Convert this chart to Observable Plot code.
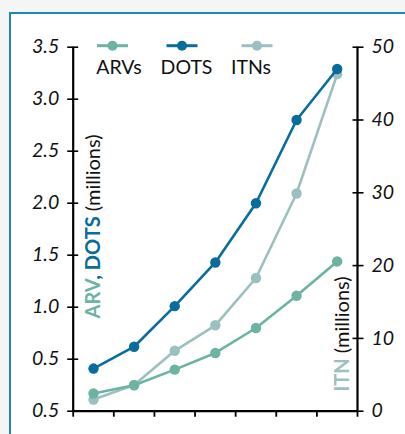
<!DOCTYPE html>
<html><head><meta charset="utf-8">
<script src="https://cdn.jsdelivr.net/npm/d3@7"></script>
<script src="https://cdn.jsdelivr.net/npm/@observablehq/plot@0.6"></script>
<style>
html,body{margin:0;padding:0;background:#f4f6f6;overflow:hidden;width:405px;height:434px;}
#box{position:absolute;left:9px;top:12px;width:420px;height:440px;border-left:2px solid #2187bb;border-top:2px solid #2187bb;background:#fff;}
#chart{position:absolute;left:0;top:0;}
</style></head><body><div id="box"></div><div id="chart"></div>
<script>
// ---- data ----
const periods = [1, 2, 3, 4, 5, 6, 7];
const arvs = [0.17, 0.25, 0.40, 0.56, 0.80, 1.11, 1.44];   // millions (left axis)
const dots = [0.41, 0.62, 1.01, 1.43, 2.00, 2.80, 3.29];   // millions (left axis)
const itns = [1.6, 3.6, 8.3, 11.8, 18.3, 29.9, 46.3];      // millions (right axis)
const leftTicks = [0, 0.5, 1, 1.5, 2, 2.5, 3, 3.5];
const leftTickLabels = ["0.5", "0.5", "1.0", "1.5", "2.0", "2.5", "3.0", "3.5"];
const rightTicks = [0, 10, 20, 30, 40, 50];
const seriesNames = ["ARVs", "DOTS", "ITNs"];
const leftMax = 3.5, rightMax = 50;

const k = leftMax / rightMax;
const colors = {ARVs: "#6cb3a3", DOTS: "#086c9c", ITNs: "#9cbfbf"};
const rows = (vals, scale) => periods.map((p, i) => ({x: p, y: vals[i] * scale}));
const arvRows = rows(arvs, 1), dotsRows = rows(dots, 1), itnRows = rows(itns, k);
const xTicks = d3.range(periods.length + 1).map(i => periods[0] - 0.5 + i);
const font = "Lato, 'Open Sans', sans-serif";

const plot = Plot.plot({
  width: 405, height: 434,
  marginLeft: 72.7, marginRight: 48, marginTop: 46.7, marginBottom: 23.3,
  style: {background: "transparent", fontFamily: font},
  x: {domain: [periods[0] - 0.5, periods[periods.length - 1] + 0.5]},
  y: {domain: [0, leftMax]},
  marks: [
    Plot.line(itnRows, {x: "x", y: "y", stroke: colors.ITNs, strokeWidth: 2.6}),
    Plot.dot(itnRows, {x: "x", y: "y", r: 5.2, fill: colors.ITNs}),
    Plot.line(arvRows, {x: "x", y: "y", stroke: colors.ARVs, strokeWidth: 2.6}),
    Plot.dot(arvRows, {x: "x", y: "y", r: 5.2, fill: colors.ARVs}),
    Plot.line(dotsRows, {x: "x", y: "y", stroke: colors.DOTS, strokeWidth: 2.6}),
    Plot.dot(dotsRows, {x: "x", y: "y", r: 5.2, fill: colors.DOTS}),
    Plot.ruleX([xTicks[0], xTicks[xTicks.length - 1]], {stroke: "#000", strokeWidth: 2.2}),
    Plot.ruleY([0], {stroke: "#000", strokeWidth: 2.2}),
    Plot.axisX({ticks: xTicks, tickSize: 6, tickFormat: () => "", strokeWidth: 1.8, label: null}),
    Plot.axisY({ticks: leftTicks, tickSize: 11, dx: 5.5, tickFormat: () => "", strokeWidth: 1.6, label: null}),
    Plot.axisY({ticks: leftTicks, tickSize: 0, tickPadding: 14, fontStyle: "italic", fill: "#111",
      tickFormat: d => leftTickLabels[leftTicks.indexOf(d)], label: null}),
    Plot.axisY({anchor: "right", ticks: rightTicks.map(v => v * k), tickSize: 11, dx: -5.5, tickFormat: () => "", strokeWidth: 1.6, label: null}),
    Plot.axisY({anchor: "right", ticks: rightTicks.map(v => v * k), tickSize: 0, tickPadding: 14, fontStyle: "italic", fill: "#111",
      tickFormat: d => String(Math.round(d / k)), label: null})
  ]
});
document.getElementById("chart").appendChild(plot);
const svg = d3.select(plot);
svg.selectAll("text").style("font-size", "19.5px").style("font-family", font);

// ---- axis titles (mixed colours) ----
const lt = svg.append("text").attr("transform", "translate(99.5,226.5) rotate(-90)")
  .attr("text-anchor", "middle").style("font-size", "20px").style("font-family", font);
lt.append("tspan").attr("font-weight", "bold").attr("fill", colors.ARVs).text("ARV");
lt.append("tspan").attr("font-weight", "bold").attr("fill", colors.DOTS).text(", DOTS");
lt.append("tspan").attr("fill", "#111").text(" (millions)");

const rt = svg.append("text").attr("transform", "translate(349,334) rotate(-90)")
  .attr("text-anchor", "middle").style("font-size", "20px").style("font-family", font);
rt.append("tspan").attr("font-weight", "bold").attr("fill", colors.ITNs).text("ITN");
rt.append("tspan").attr("fill", "#111").text(" (millions)");

// ---- legend ----
const legendSymbolX = [112.5, 182, 257];
const legendTextX = [119, 186.5, 251];
const lg = svg.append("g");
seriesNames.forEach((name, i) => {
  const cx = legendSymbolX[i];
  lg.append("line").attr("x1", cx - 15.5).attr("x2", cx + 15.5).attr("y1", 45.7).attr("y2", 45.7)
    .attr("stroke", colors[name]).attr("stroke-width", 3);
  lg.append("circle").attr("cx", cx).attr("cy", 45.7).attr("r", 5).attr("fill", colors[name]);
  lg.append("text").attr("x", legendTextX[i]).attr("y", 74).attr("text-anchor", "middle")
    .style("font-size", "19.5px").style("font-family", font).attr("fill", "#111").text(name);
});
</script></body></html>
